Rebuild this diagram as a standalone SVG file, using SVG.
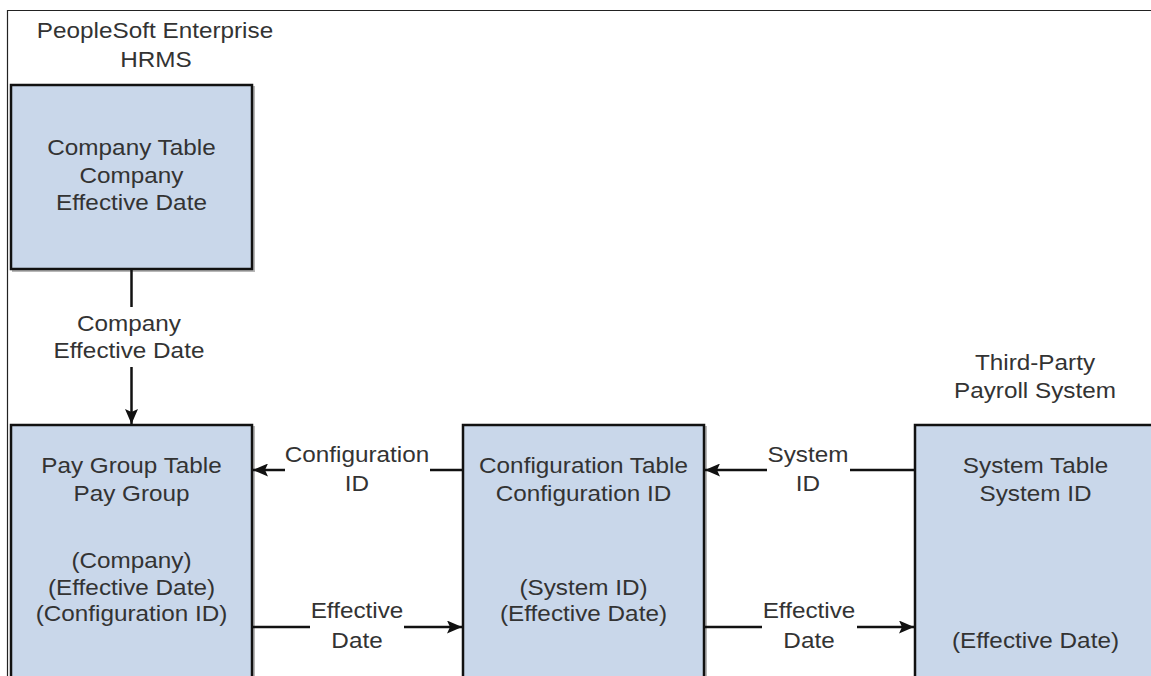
<svg xmlns="http://www.w3.org/2000/svg" width="1151" height="676" viewBox="0 0 1151 676">
<defs>
<style>
.t{font-family:"Liberation Sans",Arial,sans-serif;font-size:21.5px;fill:#333;text-anchor:middle}
.box{fill:#c9d7ea;stroke:#111;stroke-width:2.5}
.sh{fill:none;stroke:#999;stroke-width:2;opacity:0.7}
.ln{stroke:#111;stroke-width:2.5;fill:none}
.fr{stroke:#222;stroke-width:1.2;fill:none}
</style>
<marker id="ah" viewBox="0 0 15 13" refX="15" refY="6.5" markerWidth="15" markerHeight="13" markerUnits="userSpaceOnUse" orient="auto">
<path d="M0,0 L15,6.5 L0,13 L3,6.5 Z" fill="#111"/>
</marker>
</defs>
<rect width="1151" height="676" fill="#fff"/>
<path class="fr" d="M7.5,676 V10.5 H1151"/>
<g id="title-hrms">
<text class="t" transform="matrix(1.13 0 0 1 155 38)">PeopleSoft Enterprise</text>
<text class="t" transform="matrix(1.13 0 0 1 156 67)">HRMS</text>
</g>
<g id="title-thirdparty">
<text class="t" transform="matrix(1.13 0 0 1 1035 370)">Third-Party</text>
<text class="t" transform="matrix(1.13 0 0 1 1035 398)">Payroll System</text>
</g>
<g id="company-table">
<rect class="sh" x="13" y="87" width="241" height="184"/>
<rect class="box" x="11" y="85" width="241" height="184"/>
<text class="t" transform="matrix(1.13 0 0 1 131.5 155)">Company Table</text>
<text class="t" transform="matrix(1.13 0 0 1 131.5 183)">Company</text>
<text class="t" transform="matrix(1.13 0 0 1 131.5 210)">Effective Date</text>
</g>
<g id="pay-group-table">
<rect class="sh" x="13" y="427" width="241" height="300"/>
<rect class="box" x="11" y="425" width="241" height="300"/>
<text class="t" transform="matrix(1.13 0 0 1 131.5 473)">Pay Group Table</text>
<text class="t" transform="matrix(1.13 0 0 1 131.5 501)">Pay Group</text>
<text class="t" transform="matrix(1.13 0 0 1 131.5 568)">(Company)</text>
<text class="t" transform="matrix(1.13 0 0 1 131.5 595)">(Effective Date)</text>
<text class="t" transform="matrix(1.13 0 0 1 131.5 621)">(Configuration ID)</text>
</g>
<g id="configuration-table">
<rect class="sh" x="465" y="427" width="241" height="300"/>
<rect class="box" x="463" y="425" width="241" height="300"/>
<text class="t" transform="matrix(1.13 0 0 1 583.5 473)">Configuration Table</text>
<text class="t" transform="matrix(1.13 0 0 1 583.5 501)">Configuration ID</text>
<text class="t" transform="matrix(1.13 0 0 1 583.5 595)">(System ID)</text>
<text class="t" transform="matrix(1.13 0 0 1 583.5 621)">(Effective Date)</text>
</g>
<g id="system-table">
<rect class="sh" x="917" y="427" width="241" height="300"/>
<rect class="box" x="915" y="425" width="241" height="300"/>
<text class="t" transform="matrix(1.13 0 0 1 1035.5 473)">System Table</text>
<text class="t" transform="matrix(1.13 0 0 1 1035.5 501)">System ID</text>
<text class="t" transform="matrix(1.13 0 0 1 1035.5 648)">(Effective Date)</text>
</g>
<g id="connectors">
<line class="ln" x1="131.5" y1="269" x2="131.5" y2="307"/>
<line class="ln" x1="131.5" y1="367" x2="131.5" y2="424" marker-end="url(#ah)"/>
<text class="t" transform="matrix(1.13 0 0 1 129 331)">Company</text>
<text class="t" transform="matrix(1.13 0 0 1 129 358)">Effective Date</text>
<line class="ln" x1="463" y1="470" x2="430" y2="470"/>
<line class="ln" x1="285" y1="470" x2="253" y2="470" marker-end="url(#ah)"/>
<text class="t" transform="matrix(1.13 0 0 1 357 462)">Configuration</text>
<text class="t" transform="matrix(1.13 0 0 1 357 491)">ID</text>
<line class="ln" x1="915" y1="470" x2="850" y2="470"/>
<line class="ln" x1="767" y1="470" x2="705" y2="470" marker-end="url(#ah)"/>
<text class="t" transform="matrix(1.13 0 0 1 808 462)">System</text>
<text class="t" transform="matrix(1.13 0 0 1 808 491)">ID</text>
<line class="ln" x1="252" y1="627" x2="310" y2="627"/>
<line class="ln" x1="404" y1="627" x2="462" y2="627" marker-end="url(#ah)"/>
<text class="t" transform="matrix(1.13 0 0 1 357 618)">Effective</text>
<text class="t" transform="matrix(1.13 0 0 1 357 648)">Date</text>
<line class="ln" x1="704" y1="627" x2="762" y2="627"/>
<line class="ln" x1="857" y1="627" x2="914" y2="627" marker-end="url(#ah)"/>
<text class="t" transform="matrix(1.13 0 0 1 809 618)">Effective</text>
<text class="t" transform="matrix(1.13 0 0 1 809 648)">Date</text>
</g>
</svg>
